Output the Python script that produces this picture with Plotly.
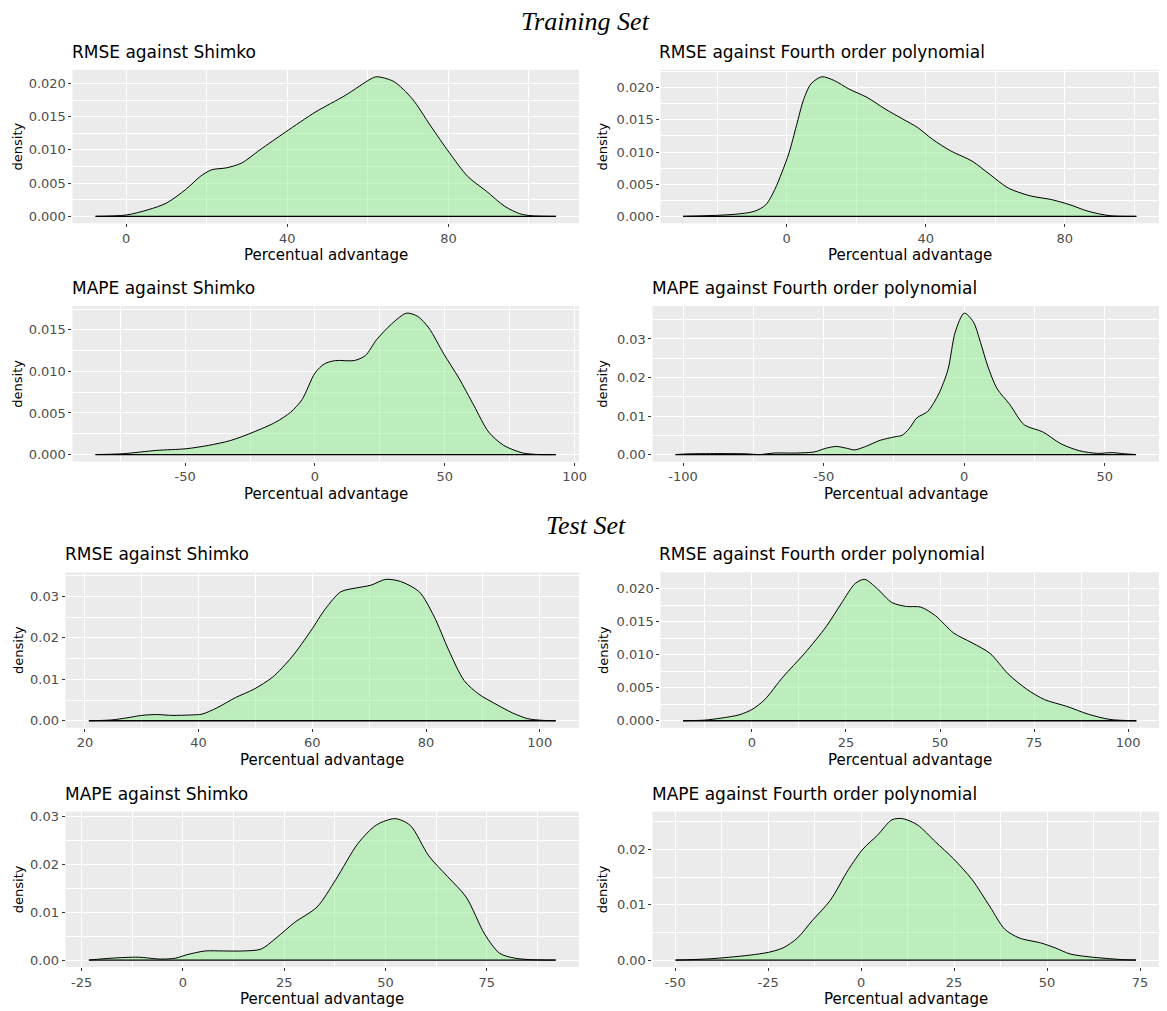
import plotly.graph_objects as go

W, H = 1167, 1011

# ---------------- data ----------------
# Training set
tr_rmse_shimko_x = [-7.6, 0, 5.5, 10, 14.7, 18.4, 21.2, 24.9, 28.6, 33.2, 39.6, 47, 54.4, 60.8, 62.2, 66.4, 71, 75.6, 80.2, 84.8, 89.4, 94, 97.7, 100.5, 106.7]
tr_rmse_shimko_y = [0, 0.0002, 0.001, 0.002, 0.004, 0.006, 0.007, 0.0073, 0.008, 0.010, 0.0127, 0.0157, 0.0182, 0.0207, 0.0210, 0.0203, 0.0177, 0.0136, 0.0096, 0.006, 0.0038, 0.0015, 0.0004, 0.0001, 0]

tr_rmse_poly_x = [-29.8, -15.4, -9.2, -6, -3.4, -1.4, 0.7, 2.8, 4.9, 7, 10.1, 13.75, 17.9, 23.1, 28.3, 33.5, 37.7, 41.9, 47.1, 53.3, 58.5, 63.75, 70, 76.25, 81.5, 86.7, 93, 100.6]
tr_rmse_poly_y = [0, 0.0003, 0.0008, 0.0018, 0.0042, 0.0068, 0.0099, 0.0141, 0.0182, 0.0206, 0.0217, 0.0211, 0.0198, 0.0185, 0.0167, 0.0151, 0.0138, 0.0120, 0.0102, 0.0086, 0.0065, 0.0044, 0.0032, 0.0026, 0.0018, 0.0008, 0.0001, 0]

tr_mape_shimko_x = [-84.5, -74, -61, -49.6, -41, -32.4, -23.7, -15.1, -9.35, -5, 0, 3.6, 7.9, 15.1, 19.4, 23.7, 29.5, 35.25, 39.6, 43.9, 49.6, 55.4, 61.2, 66.9, 72.7, 79.9, 86.3, 92.8]
tr_mape_shimko_y = [0, 0.0001, 0.0005, 0.0007, 0.0011, 0.0017, 0.0027, 0.0039, 0.0051, 0.0066, 0.0098, 0.0109, 0.0113, 0.0113, 0.0119, 0.0138, 0.0157, 0.0170, 0.0166, 0.0152, 0.0121, 0.0092, 0.0059, 0.0027, 0.0011, 0.0002, 0.0, 0]

tr_mape_poly_x = [-102.7, -97.4, -77.9, -72.7, -67.5, -59.7, -53.2, -49.4, -45.5, -41.6, -39, -35.1, -29.9, -24.7, -22.1, -19.5, -16.9, -13, -9.1, -5.8, -3.2, 0, 3.2, 5.8, 8.4, 11.7, 16.2, 21.4, 27.9, 34.4, 40.9, 47.4, 52.6, 57, 61.1]
tr_mape_poly_y = [0, 0.0002, 0.0002, 0, 0.0004, 0.0004, 0.0007, 0.0016, 0.0021, 0.0016, 0.0012, 0.0021, 0.0037, 0.0046, 0.005, 0.0068, 0.0095, 0.0112, 0.0157, 0.022, 0.0318, 0.0367, 0.0345, 0.0291, 0.0229, 0.0171, 0.013, 0.0077, 0.0059, 0.0028, 0.001, 0.0003, 0.0005, 0.0002, 0]

# Test set
te_rmse_shimko_x = [20.7, 24.7, 27.4, 30, 32.6, 35.3, 38.6, 40.6, 43.2, 46.5, 49.7, 53, 56.4, 59.7, 62.3, 65, 67.6, 70.3, 72.9, 75.5, 78.8, 81.4, 84, 86.7, 89.3, 91.9, 95.2, 97.9, 100.5, 102.8]
te_rmse_shimko_y = [0, 0.0002, 0.0007, 0.0013, 0.0015, 0.0013, 0.0014, 0.0016, 0.0031, 0.0056, 0.0076, 0.0105, 0.0154, 0.0216, 0.027, 0.0311, 0.032, 0.0327, 0.0341, 0.0336, 0.0311, 0.0252, 0.017, 0.0097, 0.0064, 0.0043, 0.0019, 0.0005, 0.0001, 0]

te_rmse_poly_x = [-18.3, -12.6, -8.2, -3.4, 0, 3.4, 8.2, 14, 19.8, 23.7, 27.5, 30, 33.3, 37.2, 41.1, 44.9, 48.8, 53.6, 58.5, 63.3, 68.1, 73, 77.8, 83.6, 89.4, 95.2, 102.2]
te_rmse_poly_y = [0, 0.0001, 0.0004, 0.0009, 0.0017, 0.0032, 0.0066, 0.0102, 0.0143, 0.0177, 0.0208, 0.0214, 0.0200, 0.0179, 0.0173, 0.0172, 0.0159, 0.0133, 0.0118, 0.0102, 0.0071, 0.0048, 0.0032, 0.0022, 0.001, 0.0002, 0]

te_mape_shimko_x = [-23.2, -17.5, -11, -5.5, -1.8, 0.9, 5.5, 10.1, 14.7, 19.3, 23, 27.6, 33.1, 37.7, 43.2, 47.8, 52.4, 56.1, 60.7, 65.3, 69.9, 74.5, 78.2, 81.9, 85.6, 92]
te_mape_shimko_y = [0, 0.0004, 0.0006, 0.0002, 0.0004, 0.0011, 0.0019, 0.0019, 0.0019, 0.0023, 0.0046, 0.0079, 0.0111, 0.0168, 0.0244, 0.0283, 0.0296, 0.0282, 0.0218, 0.0175, 0.0132, 0.0054, 0.0014, 0.0004, 0.0001, 0]

te_mape_poly_x = [-49.9, -41.2, -35.6, -29.8, -24.9, -21, -17.1, -13.2, -8.3, -3.4, 0.5, 4.4, 8.3, 11.2, 15.1, 20, 24.9, 29.8, 34.7, 38.6, 42.5, 48.3, 52.2, 56.2, 61, 65.9, 69.8, 73.9]
te_mape_poly_y = [0, 0.0002, 0.0005, 0.0009, 0.0014, 0.0022, 0.004, 0.0071, 0.0108, 0.0164, 0.0201, 0.0226, 0.0254, 0.0256, 0.0245, 0.0214, 0.0183, 0.0146, 0.0096, 0.0056, 0.004, 0.0031, 0.0022, 0.0011, 0.0006, 0.0003, 0.0001, 0]

panel_titles = ["RMSE against Shimko", "RMSE against Fourth order polynomial",
                "MAPE against Shimko", "MAPE against Fourth order polynomial",
                "RMSE against Shimko", "RMSE against Fourth order polynomial",
                "MAPE against Shimko", "MAPE against Fourth order polynomial"]
section_titles = ["Training Set", "Test Set"]
x_label = "Percentual advantage"
y_label = "density"

x_ticks = [[0, 40, 80], [0, 40, 80], [-50, 0, 50, 100], [-100, -50, 0, 50],
           [20, 40, 60, 80, 100], [0, 25, 50, 75, 100], [-25, 0, 25, 50, 75], [-50, -25, 0, 25, 50, 75]]
y_ticks = [[0, 0.005, 0.010, 0.015, 0.020], [0, 0.005, 0.010, 0.015, 0.020], [0, 0.005, 0.010, 0.015],
           [0, 0.01, 0.02, 0.03], [0, 0.01, 0.02, 0.03], [0, 0.005, 0.010, 0.015, 0.020],
           [0, 0.01, 0.02, 0.03], [0, 0.01, 0.02]]

series = [(tr_rmse_shimko_x, tr_rmse_shimko_y), (tr_rmse_poly_x, tr_rmse_poly_y),
          (tr_mape_shimko_x, tr_mape_shimko_y), (tr_mape_poly_x, tr_mape_poly_y),
          (te_rmse_shimko_x, te_rmse_shimko_y), (te_rmse_poly_x, te_rmse_poly_y),
          (te_mape_shimko_x, te_mape_shimko_y), (te_mape_poly_x, te_mape_poly_y)]

# ---------------- layout geometry (pixels) ----------------
boxes = [  # left, right, top, bottom
    (73, 583, 68, 222), (665, 1167, 68, 222),
    (73, 583, 305, 461), (657, 1167, 305, 461),
    (66, 583, 572, 728), (665, 1167, 572, 728),
    (66, 583, 812, 968), (657, 1167, 812, 968),
]

FILL = "rgba(144,238,144,0.5)"
FONT = "DejaVu Sans, Liberation Sans, Arial"
fig = go.Figure()
annotations = []
layout = {}

for i, ((xs, ys), (l, r, t, b)) in enumerate(zip(series, boxes)):
    n = i + 1
    xa = "x" if n == 1 else f"x{n}"
    ya = "y" if n == 1 else f"y{n}"
    xmin, xmax = min(xs), max(xs)
    xr = xmax - xmin
    ymax = max(ys)
    fig.add_trace(go.Scatter(x=xs, y=ys, mode="lines", line=dict(color="black", width=1, shape="spline", smoothing=0.8),
                             fill="tozeroy", fillcolor=FILL, xaxis=xa, yaxis=ya, showlegend=False, hoverinfo="skip"))
    fig.add_trace(go.Scatter(x=[xmin, xmax], y=[0, 0], mode="lines", line=dict(color="black", width=1.3),
                             xaxis=xa, yaxis=ya, showlegend=False, hoverinfo="skip"))
    xt = x_ticks[i]
    yt = y_ticks[i]
    xstep = xt[1] - xt[0]
    ystep = yt[1] - yt[0]
    ydec = 3 if ystep < 0.01 else 2
    layout["xaxis" if n == 1 else f"xaxis{n}"] = dict(
        domain=[l / W, r / W], anchor=ya, range=[xmin - 0.05 * xr, xmax + 0.05 * xr],
        tickvals=xt, ticktext=[str(v) for v in xt], ticks="outside", ticklen=3, tickcolor="#333333",
        tickfont=dict(family=FONT, size=13, color="#4D4D4D"),
        showgrid=True, gridcolor="white", gridwidth=1.2, zeroline=False, showline=False,
        minor=dict(tick0=xt[0] - xstep / 2, dtick=xstep, showgrid=True, gridcolor="white", gridwidth=0.6, ticks=""),
    )
    layout["yaxis" if n == 1 else f"yaxis{n}"] = dict(
        domain=[1 - b / H, 1 - t / H], anchor=xa, range=[-0.05 * ymax, 1.05 * ymax],
        tickvals=yt, ticktext=[f"{v:.{ydec}f}" for v in yt], ticks="outside", ticklen=3, tickcolor="#333333",
        tickfont=dict(family=FONT, size=13, color="#4D4D4D"),
        showgrid=True, gridcolor="white", gridwidth=1.2, zeroline=False, showline=False,
        minor=dict(tick0=ystep / 2, dtick=ystep, showgrid=True, gridcolor="white", gridwidth=0.6, ticks=""),
    )
    annotations.append(dict(text=panel_titles[i], xref="paper", yref="paper", x=(l - 3) / W, y=1 - (t - 6) / H,
                            xanchor="left", yanchor="bottom", showarrow=False,
                            font=dict(family=FONT, size=17, color="black")))
    annotations.append(dict(text=x_label, xref="paper", yref="paper", x=(l + r) / 2 / W, y=1 - (b + 32) / H,
                            xanchor="center", yanchor="middle", showarrow=False,
                            font=dict(family=FONT, size=15, color="black")))
    ytx = 18 if l < 300 else 607
    annotations.append(dict(text=y_label, xref="paper", yref="paper", x=ytx / W, y=1 - (t + b) / 2 / H,
                            xanchor="center", yanchor="middle", textangle=-90, showarrow=False,
                            font=dict(family=FONT, size=13, color="black")))

for txt, yc in zip(section_titles, [20, 525]):
    annotations.append(dict(text=f"<i>{txt}</i>", xref="paper", yref="paper", x=590 / W, y=1 - yc / H,
                            xanchor="center", yanchor="middle", showarrow=False,
                            font=dict(family="Liberation Serif, Times New Roman", size=26, color="black")))

fig.update_layout(width=W, height=H, margin=dict(l=0, r=0, t=0, b=0), paper_bgcolor="white",
                  plot_bgcolor="#EBEBEB", annotations=annotations, **layout)
fig.write_html("out.html")
